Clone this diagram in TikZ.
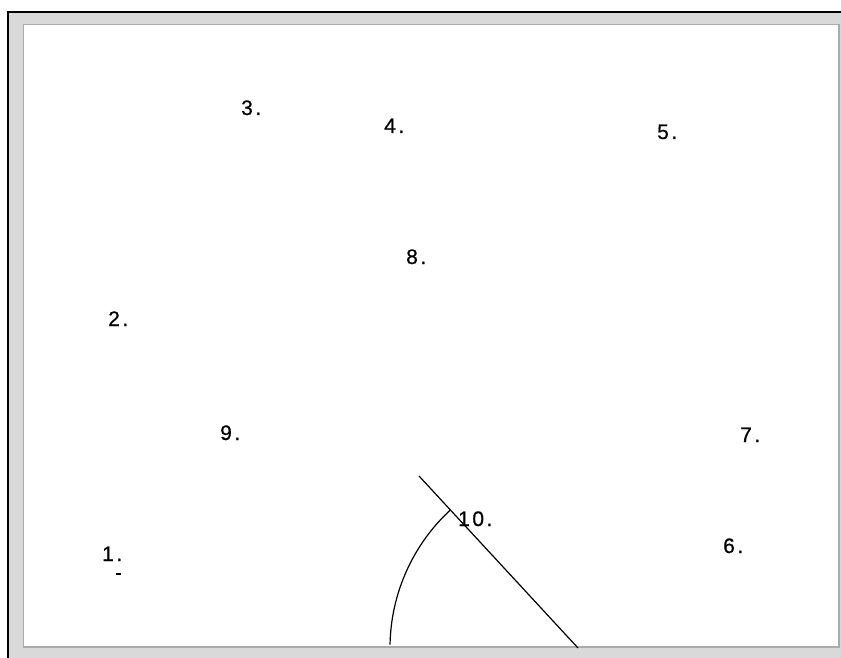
\documentclass[tikz,border=0pt]{standalone}
\usepackage{fontspec}
\setmainfont{Liberation Sans}
\newfontfamily\lblfont{Liberation Sans}[FakeBold=0.6,LetterSpace=12]
\begin{document}
\begin{tikzpicture}[x=1pt,y=-1pt,
  lbl/.style={anchor=base west,inner sep=0pt,font=\lblfont\fontsize{21}{25}\selectfont},
  stroke/.style={line width=1.2pt,black}]
\useasboundingbox (0,0) rectangle (841,658);
% window frame
\fill[white] (0,0) rectangle (841,658);
\fill[gray!30] (8,12) rectangle (841,658);
\draw[line width=2pt,black] (8,658) -- (8,12) -- (841,12);
\fill[white] (23.5,24.5) rectangle (839,647);
\draw[line width=1.2pt,black!33] (23.5,647) -- (23.5,24.5) -- (839,24.5) -- (839,647) -- cycle;
% labels
\node[lbl] (n1) at (102,561) {1.};
\node[lbl] (n2) at (108,326) {2.};
\node[lbl] (n3) at (241,115) {3.};
\node[lbl] (n4) at (384,133) {4.};
\node[lbl] (n5) at (657,139) {5.};
\node[lbl] (n6) at (723,553) {6.};
\node[lbl] (n7) at (740,442) {7.};
\node[lbl] (n8) at (406,264) {8.};
\node[lbl] (n9) at (220,440) {9.};
\node[lbl] (n10) at (458,526) {10.};
% small dash under 1.
\coordinate (d1) at (116,574);
\coordinate (d2) at (121,574);
\draw[line width=1.2pt] (d1) -- (d2);
% line and arc
\coordinate (la) at (419,476);
\coordinate (lb) at (578,648);
\draw[stroke] (la) -- (lb);
\begin{scope}
\clip (23.5,24.5) rectangle (839,646);
\draw[stroke] (lb) ++(132.8:188pt) arc[start angle=132.8, end angle=179, radius=188pt];
\end{scope}
\end{tikzpicture}
\end{document}
